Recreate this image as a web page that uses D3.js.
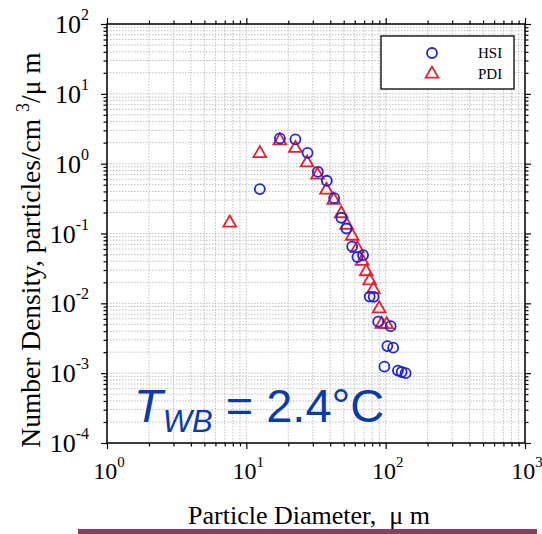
<!DOCTYPE html>
<html><head><meta charset="utf-8">
<script src="https://cdn.jsdelivr.net/npm/d3@7/dist/d3.min.js"></script>
<style>body{margin:0;background:#fff}svg{display:block}</style>
</head><body><svg id="c" width="542" height="534"></svg>
<script>
// ---- data ----
const xTickExponents = [0, 1, 2, 3];
const yTickExponents = [-4, -3, -2, -1, 0, 1, 2];
const seriesNames = ["HSI", "PDI"];
const hsiDiameter = [12.5, 17.4, 22.5, 27.5, 32.6, 37.8, 42.7, 48.1, 52.3, 57.5, 62.7, 68.8, 76.8, 82.0, 88.4, 108.6, 102.8, 113.2, 97.9, 122.5, 130.2, 139.1];
const hsiDensity  = [0.432, 2.30, 2.23, 1.43, 0.765, 0.569, 0.321, 0.168, 0.118, 0.0649, 0.0459, 0.049, 0.0125, 0.0124, 0.00547, 0.00471, 0.00244, 0.00232, 0.00124, 0.00109, 0.00104, 0.00100];
const pdiDiameter = [7.6, 12.5, 17.4, 22.5, 27.3, 32.4, 37.6, 42.4, 48.0, 52.5, 57.5, 62.5, 67.9, 72.5, 76.8, 81.7, 89.8, 93.6, 101.6];
const pdiDensity  = [0.142, 1.40, 2.13, 1.66, 1.03, 0.687, 0.419, 0.301, 0.193, 0.132, 0.0918, 0.0612, 0.0402, 0.0285, 0.0211, 0.0158, 0.0084, 0.00504, 0.00497];
const annotationMain = "T";
const annotationSub = "WB";
const annotationRest = " = 2.4°C";

// ---- layout ----
const svg = d3.select("#c");
const L = 107, R = 525, T = 24, B = 443;
const x = d3.scaleLog().domain([1, 1000]).range([L, R]);
const y = d3.scaleLog().domain([1e-4, 100]).range([B, T]);
const serif = "'Liberation Serif','Times New Roman',serif";
const sans = "'Liberation Sans',Arial,sans-serif";

svg.append("rect").attr("width", 542).attr("height", 534).attr("fill", "#fff");

function minorVals(lo, hi) {
  const v = [];
  for (let e = lo; e < hi; e++) for (let m = 2; m <= 9; m++) v.push(m * Math.pow(10, e));
  return v;
}
const xMajor = xTickExponents.map(e => Math.pow(10, e));
const yMajor = yTickExponents.map(e => Math.pow(10, e));
const xMinor = minorVals(0, 3);
const yMinor = minorVals(-4, 2);

// grid
const grid = svg.append("g");
grid.selectAll(".gxm").data(xMinor.concat(xMajor)).join("line")
  .attr("x1", d => x(d)).attr("x2", d => x(d)).attr("y1", T).attr("y2", B)
  .attr("stroke", "#b0b0b0").attr("stroke-width", 0.8).attr("stroke-dasharray", "1.5,1.5");
grid.selectAll(".gym").data(yMinor.concat(yMajor)).join("line")
  .attr("y1", d => y(d)).attr("y2", d => y(d)).attr("x1", L).attr("x2", R)
  .attr("stroke", "#b0b0b0").attr("stroke-width", 0.8).attr("stroke-dasharray", "1.5,1.5");

// axes (ticks through d3 axes)
function styleAxis(g) {
  g.select(".domain").remove();
  g.selectAll("line").attr("stroke", "#000").attr("stroke-width", 1.2);
  g.selectAll("text").remove();
}
const axes = [
  [d3.axisBottom(x), `translate(0,${B})`, xMajor, xMinor],
  [d3.axisTop(x), `translate(0,${T})`, xMajor, xMinor],
  [d3.axisLeft(y), `translate(${L},0)`, yMajor, yMinor],
  [d3.axisRight(y), `translate(${R},0)`, yMajor, yMinor]
];
axes.forEach(([ax, tr, maj, min]) => {
  svg.append("g").attr("transform", tr).call(ax.tickValues(maj).tickSize(6).tickFormat("")).call(styleAxis);
  svg.append("g").attr("transform", tr).call(ax.tickValues(min).tickSize(3.5).tickFormat("")).call(styleAxis);
});
svg.append("rect").attr("x", L).attr("y", T).attr("width", R - L).attr("height", B - T)
  .attr("fill", "none").attr("stroke", "#000").attr("stroke-width", 1.5);

// tick labels
const xl = svg.append("g").attr("font-family", serif).attr("fill", "#000");
xTickExponents.forEach(e => {
  const t = xl.append("text").attr("x", x(Math.pow(10, e)) + 2).attr("y", 479)
    .attr("text-anchor", "middle").attr("font-size", 24);
  t.append("tspan").text("10");
  t.append("tspan").attr("dy", -12).attr("font-size", 15).text(e);
});
yTickExponents.forEach(e => {
  const t = xl.append("text").attr("x", 89).attr("y", y(Math.pow(10, e)) + 9)
    .attr("text-anchor", "end").attr("font-size", 26);
  t.append("tspan").text("10");
  t.append("tspan").attr("dy", -13).attr("font-size", 16).text(e);
});

// axis titles
svg.append("text").attr("x", 309).attr("y", 524).attr("text-anchor", "middle")
  .attr("font-family", serif).attr("font-size", 26).text("Particle Diameter,\u00a0\u00a0\u03bc\u00a0m");
const yt = svg.append("text").attr("transform", "translate(40,250) rotate(-90)")
  .attr("text-anchor", "middle").attr("font-family", serif).attr("font-size", 27.5);
yt.append("tspan").text("Number Density, particles/cm\u00a0");
yt.append("tspan").attr("dy", -11).attr("font-size", 18).text("3");
yt.append("tspan").attr("dy", 11).text("/\u03bc\u00a0m");

// data
const blue = "#2323d8", red = "#e3202c";
const hsi = hsiDiameter.map((d, i) => ({d, n: hsiDensity[i]}));
const pdi = pdiDiameter.map((d, i) => ({d, n: pdiDensity[i]}));
const tri = d3.symbol().type(d3.symbolTriangle).size(70);
svg.append("g").selectAll("path").data(pdi).join("path")
  .attr("d", tri).attr("transform", p => `translate(${x(p.d)},${y(p.n)})`)
  .attr("fill", "none").attr("stroke", red).attr("stroke-width", 1.8);
svg.append("g").selectAll("circle").data(hsi).join("circle")
  .attr("cx", p => x(p.d)).attr("cy", p => y(p.n)).attr("r", 5)
  .attr("fill", "none").attr("stroke", blue).attr("stroke-width", 1.8);

// legend
const lg = svg.append("g");
lg.append("rect").attr("x", 381).attr("y", 36).attr("width", 133).attr("height", 53)
  .attr("fill", "#fff").attr("stroke", "#222").attr("stroke-width", 1.5);
lg.append("circle").attr("cx", 432).attr("cy", 53).attr("r", 5).attr("fill", "none")
  .attr("stroke", blue).attr("stroke-width", 1.8);
lg.append("path").attr("d", tri).attr("transform", "translate(432,74)").attr("fill", "none")
  .attr("stroke", red).attr("stroke-width", 1.8);
lg.selectAll("text").data(seriesNames).join("text")
  .attr("x", 478).attr("y", (d, i) => 58 + i * 21).attr("font-family", serif)
  .attr("font-size", 15).attr("fill", "#000").text(d => d);

// annotation
const an = svg.append("text").attr("x", 134).attr("y", 422).attr("font-family", sans)
  .attr("font-size", 47).attr("fill", "#0c3ba4");
an.append("tspan").attr("font-style", "italic").text(annotationMain);
an.append("tspan").attr("font-style", "italic").attr("font-size", 31).attr("dy", 10).text(annotationSub);
an.append("tspan").attr("dy", -10).text(annotationRest);

// bottom rule
svg.append("rect").attr("x", 78).attr("y", 529).attr("width", 459).attr("height", 5).attr("fill", "#8c3b63");
</script></body></html>
